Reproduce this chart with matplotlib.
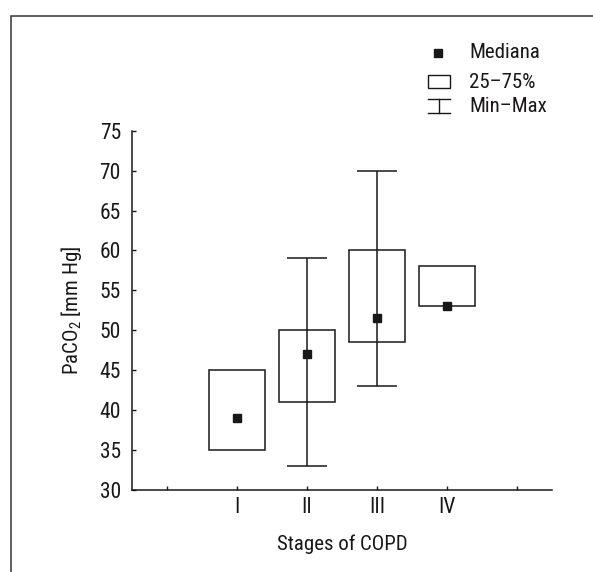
import numpy as np
import matplotlib
matplotlib.use("Agg")
import matplotlib.pyplot as plt
from matplotlib.patches import Rectangle
from matplotlib.lines import Line2D

plt.rcParams['font.family'] = ['Roboto Condensed', 'DejaVu Sans']
plt.rcParams['mathtext.fontset'] = 'custom'
plt.rcParams['mathtext.rm'] = 'Roboto Condensed'

# Data
stages = ['I', 'II', 'III', 'IV']
medians = [39, 47, 51.5, 53]
q1 = [35, 41, 48.5, 53]
q3 = [45, 50, 60, 58]
mins = [np.nan, 33, 43, np.nan]
maxs = [np.nan, 59, 70, np.nan]

ink = '#1a1718'
positions = np.arange(1, len(stages) + 1)

fig = plt.figure(figsize=(5.93, 5.72), dpi=100)
ax = fig.add_axes([0.2226, 0.1434, 0.708, 0.628])

# outer frame (only top and left edge visible in the original)
fig.add_artist(Rectangle((11 / 593, -0.1), 1.2, 1 - 16 / 572 + 0.1,
                         transform=fig.transFigure, fill=False,
                         ec='#333333', lw=1.1))

# whiskers (min-max) drawn through the box
for x, lo, hi in zip(positions, mins, maxs):
    if np.isnan(lo):
        continue
    ax.vlines(x, lo, hi, color=ink, lw=1.1)
    ax.hlines([lo, hi], x - 0.29, x + 0.29, color=ink, lw=1.1)

# 25-75% boxes
ax.bar(positions, np.array(q3) - np.array(q1), bottom=q1, width=0.8,
       fill=False, edgecolor=ink, linewidth=1.1)

# medians
ax.plot(positions, medians, 's', color=ink, ms=5.8, ls='none', zorder=5)

ax.set_xlim(-0.5, 5.5)
ax.set_ylim(30, 75)
ax.set_xticks(np.arange(0, 6))
ax.set_xticklabels([''] + stages + [''])
ax.set_yticks(np.arange(30, 80, 5))

for side in ['top', 'right']:
    ax.spines[side].set_visible(False)
for side in ['left', 'bottom']:
    ax.spines[side].set_color(ink)
    ax.spines[side].set_linewidth(1.1)

ax.tick_params(axis='y', direction='in', length=3, width=1.0, color=ink,
               labelsize=15.5, labelcolor=ink, pad=8)
ax.tick_params(axis='x', direction='in', length=3, width=1.0, color=ink,
               labelsize=15.5, labelcolor=ink, pad=5)

ax.set_xlabel('Stages of COPD', fontsize=15, color=ink, labelpad=12)
ax.set_ylabel(r'PaCO$_\mathregular{2}$ [mm Hg]', fontsize=15, color=ink,
              labelpad=11)

# legend drawn by hand in pixel coords
W, H = 593, 572


def fx(px):
    return px / W


def fy(py):
    return 1 - py / H


fig.add_artist(Line2D([fx(438)], [fy(53)], marker='s', ms=5.4, color=ink,
                      transform=fig.transFigure))
fig.add_artist(Rectangle((fx(428), fy(88)), fx(450) - fx(428), fy(75) - fy(88),
                         transform=fig.transFigure, fill=False, ec=ink, lw=1.0))
fig.add_artist(Line2D([fx(439), fx(439)], [fy(99), fy(113)], color=ink, lw=1.0,
                      transform=fig.transFigure))
for yy in [99, 113]:
    fig.add_artist(Line2D([fx(428), fx(450)], [fy(yy), fy(yy)], color=ink,
                          lw=1.0, transform=fig.transFigure))

legend_labels = ['Mediana', '25\u201375%', 'Min\u2013Max']
for lab, yy in zip(legend_labels, [53, 82, 107]):
    fig.text(fx(469), fy(yy), lab, fontsize=15, color=ink, va='center',
             ha='left')

fig.savefig('out.png', dpi=100, facecolor='white')
